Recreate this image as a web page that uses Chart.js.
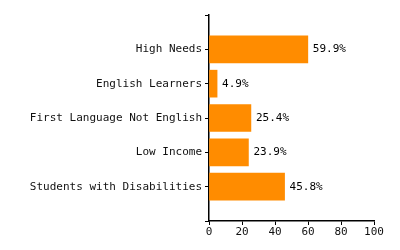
<!DOCTYPE html>
<html>
<head>
<meta charset="utf-8">
<script src="https://cdn.jsdelivr.net/npm/chart.js@4"></script>
<style>
  html, body { margin: 0; padding: 0; background: #fff; }
  #wrap { width: 400px; height: 250px; }
</style>
</head>
<body>
<div id="wrap"><canvas id="chart" width="400" height="250"></canvas></div>
<script>
  const groups = ['High Needs', 'English Learners', 'First Language Not English', 'Low Income', 'Students with Disabilities'];
  const percents = [59.9, 4.9, 25.4, 23.9, 45.8];
  const xTicks = [0, 20, 40, 60, 80, 100];

  // blank slots at both ends give the empty band above and below the bars
  const labels = [''].concat(groups, ['']);
  const values = [null].concat(percents, [null]);

  const font = { family: 'DejaVu Sans Mono', size: 11 };

  const valueLabels = {
    id: 'valueLabels',
    afterDatasetsDraw(chart) {
      const ctx = chart.ctx;
      const meta = chart.getDatasetMeta(0);
      ctx.save();
      ctx.font = '11px "DejaVu Sans Mono"';
      ctx.fillStyle = '#000';
      ctx.textBaseline = 'middle';
      ctx.textAlign = 'left';
      meta.data.forEach((bar, i) => {
        if (values[i] == null) return;
        ctx.fillText(values[i].toFixed(1) + '%', bar.x + 5, bar.y);
      });
      ctx.restore();
    }
  };

  new Chart(document.getElementById('chart').getContext('2d'), {
    type: 'bar',
    data: {
      labels: labels,
      datasets: [{
        data: values,
        backgroundColor: '#ff8c00',
        barThickness: 27
      }]
    },
    options: {
      indexAxis: 'y',
      responsive: false,
      animation: false,
      layout: { padding: { top: 15, right: 26, bottom: 0, left: 0 } },
      plugins: { legend: { display: false }, tooltip: { enabled: false } },
      scales: {
        x: {
          min: 0,
          max: 100,
          afterBuildTicks: s => { s.ticks = xTicks.map(v => ({ value: v })); },
          afterFit: s => { s.height = 29; },
          grid: { drawOnChartArea: false, drawTicks: true, tickLength: 4, color: '#000' },
          border: { display: true, color: '#000', width: 1.5 },
          ticks: { color: '#111', font: font, padding: 1, maxRotation: 0 }
        },
        y: {
          offset: false,
          afterFit: s => { s.width = 209; },
          grid: { offset: false, drawOnChartArea: false, drawTicks: true, tickLength: 4, color: '#000' },
          border: { display: true, color: '#000', width: 1.5 },
          ticks: { color: '#111', font: font, padding: 3, autoSkip: false }
        }
      }
    },
    plugins: [valueLabels]
  });
</script>
</body>
</html>
